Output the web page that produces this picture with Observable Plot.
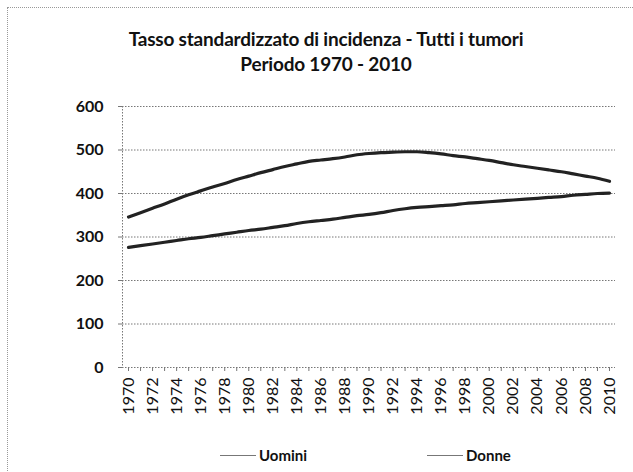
<!DOCTYPE html>
<html>
<head>
<meta charset="utf-8">
<script src="https://cdn.jsdelivr.net/npm/d3@7"></script>
<script src="https://cdn.jsdelivr.net/npm/@observablehq/plot@0.6"></script>
<style>
  html, body { margin: 0; padding: 0; background: #fff; overflow: hidden; }
  #wrap { position: relative; width: 633px; height: 472px; overflow: hidden; font-family: Lato, "Open Sans", sans-serif; color: #111; }
  #frame { position: absolute; left: 7px; top: 7px; width: 700px; height: 480px; border: 1px dotted #999; }
  #title { position: absolute; left: 0; top: 26px; width: 652px; text-align: center; font-weight: bold; font-size: 19px; line-height: 25px; letter-spacing: -0.2px; }
  #chart { position: absolute; left: 0; top: 90px; }
  #legend { position: absolute; top: 446px; left: 0; width: 633px; font-weight: bold; font-size: 15px; }
  .li { position: absolute; display: flex; align-items: center; }
  .sw { width: 36px; height: 0; border-top: 1.5px solid #777; margin-right: 3px; }
</style>
</head>
<body>
<div id="wrap">
  <div id="frame"></div>
  <div id="title">Tasso standardizzato di incidenza - Tutti i tumori<br>Periodo 1970 - 2010</div>
  <div id="chart"></div>
  <div id="legend"></div>
</div>
<script>
const years = d3.range(1970, 2011);
const labelYears = d3.range(1970, 2011, 2);
const uomini = [346, 356, 366, 376, 387, 397, 406, 415, 423, 432, 440, 448, 455, 462, 468, 474, 477, 480, 484, 489, 492, 494, 495, 496, 496, 494, 491, 487, 484, 480, 476, 471, 466, 462, 458, 454, 450, 445, 440, 435, 428];
const donne = [276, 280, 284, 288, 292, 296, 299, 303, 307, 311, 315, 318, 322, 326, 331, 335, 338, 341, 345, 349, 352, 356, 361, 365, 368, 370, 372, 374, 377, 379, 381, 383, 385, 387, 389, 391, 393, 396, 398, 400, 401];
const yTicks = [0, 100, 200, 300, 400, 500, 600];
const seriesNames = ["Uomini", "Donne"];

const rows = [];
years.forEach((y, i) => {
  rows.push({year: y, value: uomini[i], serie: seriesNames[0]});
  rows.push({year: y, value: donne[i], serie: seriesNames[1]});
});

const chart = Plot.plot({
  width: 633,
  height: 340,
  marginTop: 16,
  marginBottom: 63,
  marginLeft: 122,
  marginRight: 18,
  style: {fontFamily: "Lato, 'Open Sans', sans-serif", fontSize: "14px", color: "#111", background: "transparent"},
  x: {type: "linear", domain: [1969.5, 2010.5], label: null},
  y: {domain: [0, 600], label: null},
  marks: [
    Plot.gridY(yTicks, {stroke: "#777", strokeOpacity: 1, strokeDasharray: "1.5,1.5", strokeWidth: 1}),
    Plot.ruleX([1969.5], {stroke: "#777", strokeDasharray: "1.5,1.5"}),
    Plot.axisY({ticks: yTicks, tickSize: 4, tickPadding: 15, fontWeight: "bold", fontSize: 16, stroke: "#777", label: null}),
    Plot.axisX({ticks: years, tickSize: 4, tickFormat: () => "", stroke: "#777", label: null}),
    Plot.axisX({ticks: labelYears, tickSize: 0, tickPadding: 10, tickRotate: -90, tickFormat: d => String(d), fontSize: 16, label: null}),
    Plot.line(rows, {x: "year", y: "value", z: "serie", stroke: "#222", strokeWidth: 3.2, curve: "monotone-x"})
  ]
});
document.getElementById("chart").appendChild(chart);

const legend = document.getElementById("legend");
const lx = [220, 427];
seriesNames.forEach((n, i) => {
  const d = document.createElement("div");
  d.className = "li";
  d.style.left = lx[i] + "px";
  d.innerHTML = '<span class="sw"></span><span>' + n + '</span>';
  legend.appendChild(d);
});
</script>
</body>
</html>
